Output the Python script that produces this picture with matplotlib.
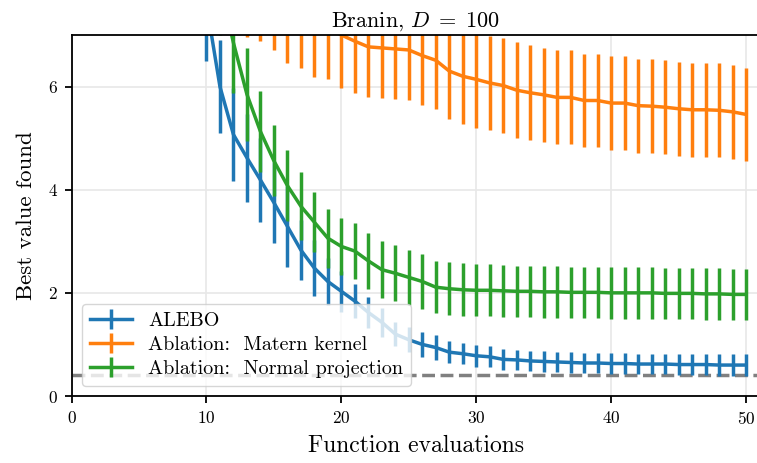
import matplotlib
matplotlib.use("Agg")
import matplotlib.pyplot as plt
import numpy as np

plt.rcParams['font.family'] = 'cmr10'
plt.rcParams['mathtext.fontset'] = 'cm'
plt.rcParams['axes.formatter.use_mathtext'] = True
plt.rcParams['axes.unicode_minus'] = False

# ALEBO
alebo_x = list(range(10, 51))
alebo_mean = [7.6, 6.0, 5.07, 4.62, 4.19, 3.75, 3.29, 2.83, 2.48, 2.22,
              2.03, 1.84, 1.62, 1.43, 1.20, 1.09, 1.00, 0.94, 0.85, 0.82,
              0.78, 0.76, 0.71, 0.70, 0.68, 0.67, 0.66, 0.65, 0.64, 0.64,
              0.63, 0.63, 0.62, 0.62, 0.62, 0.61, 0.61, 0.61, 0.60, 0.60, 0.60]
alebo_err = [1.1, 0.9, 0.91, 0.85, 0.81, 0.78, 0.78, 0.58, 0.55, 0.45,
             0.40, 0.33, 0.30, 0.28, 0.24, 0.24, 0.25, 0.24, 0.21, 0.20,
             0.21, 0.20, 0.20, 0.20, 0.20, 0.20, 0.20, 0.20, 0.20, 0.20,
             0.20, 0.20, 0.20, 0.20, 0.20, 0.20, 0.20, 0.20, 0.21, 0.21, 0.21]

# Ablation: Matern kernel
matern_x = list(range(12, 51))
matern_mean = [8.2, 7.96, 7.88, 7.7, 7.46, 7.36, 7.19, 7.14, 7.0, 6.88,
               6.77, 6.75, 6.73, 6.71, 6.6, 6.51, 6.3, 6.2, 6.14, 6.07,
               6.02, 5.93, 5.88, 5.84, 5.79, 5.79, 5.73, 5.73, 5.68, 5.68,
               5.63, 5.62, 5.6, 5.57, 5.55, 5.55, 5.54, 5.51, 5.46]
matern_err = [1.0, 1.0, 1.0, 1.0, 1.0, 1.0, 1.0, 1.0, 1.03, 1.0,
              0.98, 0.97, 0.97, 0.98, 0.95, 0.94, 0.93, 0.92, 0.94, 0.92,
              0.92, 0.93, 0.92, 0.91, 0.91, 0.91, 0.91, 0.91, 0.91, 0.91,
              0.91, 0.91, 0.91, 0.91, 0.91, 0.91, 0.91, 0.91, 0.90]

# Ablation: Normal projection
normal_x = list(range(11, 51))
normal_mean = [8.0, 6.85, 5.85, 5.13, 4.56, 4.08, 3.68, 3.37, 3.06, 2.9,
               2.81, 2.62, 2.45, 2.38, 2.3, 2.22, 2.11, 2.08, 2.06, 2.05,
               2.05, 2.04, 2.03, 2.03, 2.02, 2.02, 2.01, 2.01, 2.01, 2.0,
               2.0, 2.0, 2.0, 1.99, 1.99, 1.99, 1.98, 1.98, 1.97, 1.97]
normal_err = [1.0, 0.97, 0.9, 0.78, 0.69, 0.69, 0.66, 0.58, 0.57, 0.56,
              0.55, 0.55, 0.55, 0.54, 0.54, 0.53, 0.51, 0.51, 0.51, 0.5,
              0.5, 0.5, 0.5, 0.5, 0.5, 0.5, 0.5, 0.5, 0.5, 0.5,
              0.5, 0.5, 0.5, 0.5, 0.5, 0.5, 0.5, 0.5, 0.5, 0.5]

optimum = 0.397887

fig = plt.figure(figsize=(7.57, 4.63), dpi=100)
ax = fig.add_axes([0.0945, 0.1447, 0.9089, 0.7797])

kw = dict(lw=2.5, elinewidth=2.5, capsize=0)
ax.errorbar(alebo_x, alebo_mean, yerr=alebo_err, color='#1f77b4', label='ALEBO', **kw)
ax.errorbar(matern_x, matern_mean, yerr=matern_err, color='#ff7f0e', label='Ablation:  Matern kernel', **kw)
ax.errorbar(normal_x, normal_mean, yerr=normal_err, color='#2ca02c', label='Ablation:  Normal projection', **kw)
ax.axhline(optimum, color='grey', ls='--', lw=2.5, zorder=1)

ax.set_xlim(0, 51)
ax.set_ylim(0, 7)
ax.set_xticks([0, 10, 20, 30, 40, 50])
ax.set_yticks([0, 2, 4, 6])
ax.grid(True, color='#e8e8e8', lw=1.2)
ax.set_axisbelow(True)
ax.tick_params(labelsize=12.5, length=5, width=1.3, pad=5)
for s in ax.spines.values():
    s.set_linewidth(1.3)

ax.set_title('Branin, $D\\;=\\;100$', fontsize=16, pad=6)
ax.set_xlabel('Function evaluations', fontsize=17, labelpad=6)
ax.set_ylabel('Best value found', fontsize=16.5, labelpad=8)
leg = ax.legend(loc='lower left', fontsize=14.5, framealpha=0.8, edgecolor='#cccccc',
                handlelength=2.1, borderpad=0.4, labelspacing=0.28, handletextpad=0.8)

fig.savefig('out.png', dpi=100)
